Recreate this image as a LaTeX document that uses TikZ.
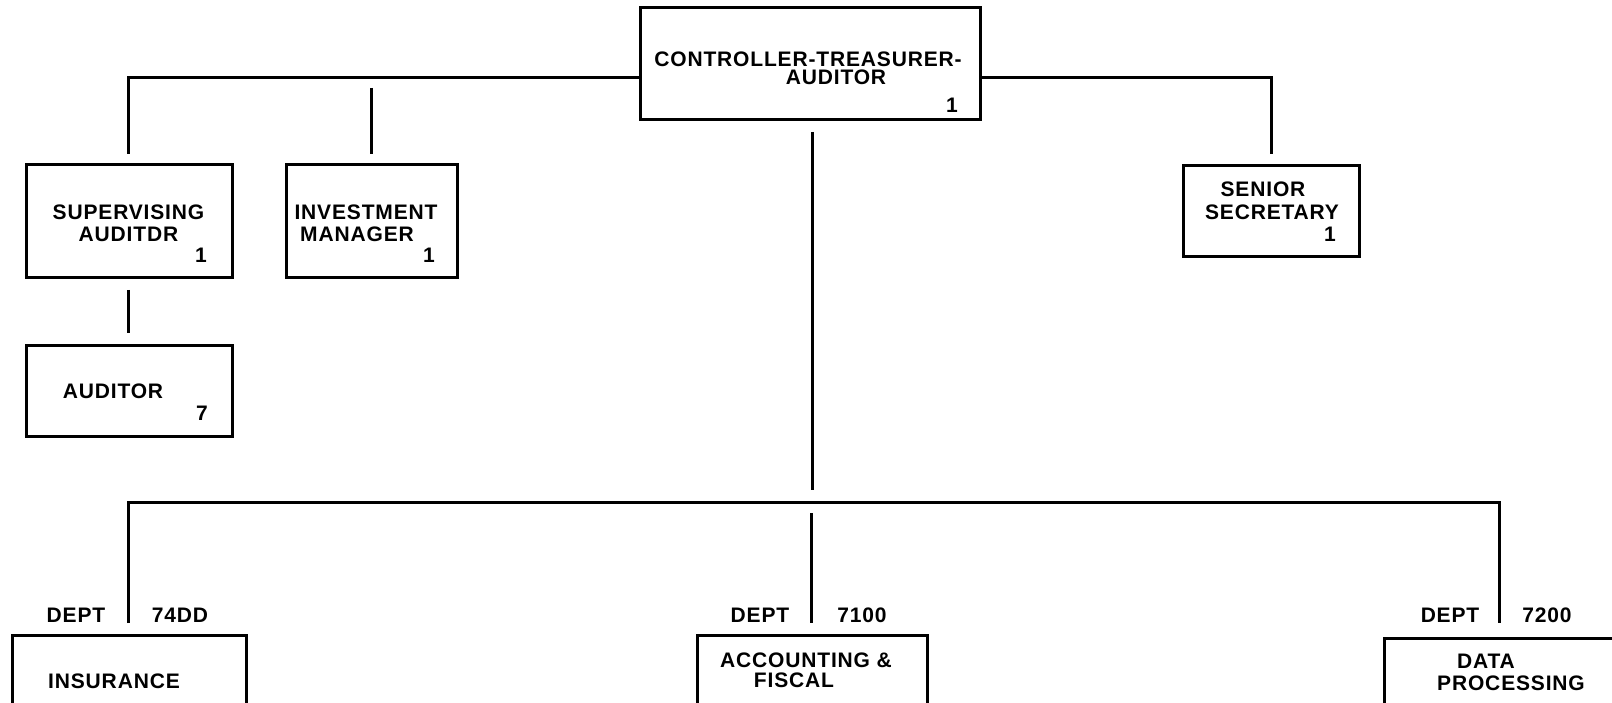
\documentclass[tikz,border=0pt]{standalone}
\usepackage{fontspec}
\setmainfont{Liberation Sans}[LetterSpace=4]
\begin{document}
\begin{tikzpicture}[x=1pt,y=-1pt,
  line width=3pt,
  orgbox/.style={draw,line width=3pt,rectangle,inner sep=0pt,fill=none},
  lbl/.style={anchor=base,inner sep=0pt,font=\fontsize{21}{24}\selectfont\bfseries},
  conn/.style={line width=3pt,line cap=butt}]
\useasboundingbox (0,0) rectangle (1612,703);
\clip (0,0) rectangle (1612,703);
\fill[white] (0,0) rectangle (1612,703);
% boxes
\node[orgbox,minimum width=340pt,minimum height=112pt] (top) at (810,64) {};
\node[orgbox,minimum width=206pt,minimum height=113pt] (sup) at (129,221.5) {};
\node[orgbox,minimum width=171pt,minimum height=113pt] (inv) at (371.5,221.5) {};
\node[orgbox,minimum width=206pt,minimum height=90pt] (aud) at (129,391) {};
\node[orgbox,minimum width=176pt,minimum height=91pt] (sen) at (1271,211.5) {};
\node[orgbox,minimum width=234pt,minimum height=73pt] (ins) at (129,671.5) {};
\node[orgbox,minimum width=230pt,minimum height=73pt] (acc) at (812,671.5) {};
\node[orgbox,minimum width=241pt,minimum height=70pt] (dat) at (1504.5,673) {};
% texts
\node[lbl] (t1) at (808,67) {CONTROLLER-TREASURER-};
\node[lbl] (t2) at (836,85) {AUDITOR};
\node[lbl] (t3) at (952,113) {1};
\node[lbl] (s1) at (128.5,220) {SUPERVISING};
\node[lbl] (s2) at (128.5,242) {AUDITDR};
\node[lbl] (s3) at (201,263) {1};
\node[lbl] (i1) at (366,220) {INVESTMENT};
\node[lbl] (i2) at (357,242) {MANAGER};
\node[lbl] (i3) at (429,263) {1};
\node[lbl] (a1) at (113,398) {AUDITOR};
\node[lbl] (a2) at (202,420) {7};
\node[lbl] (r1) at (1263,197) {SENIOR};
\node[lbl] (r2) at (1272,220) {SECRETARY};
\node[lbl] (r3) at (1330,242) {1};
\node[lbl] (n1) at (114,688) {INSURANCE};
\node[lbl] (c1) at (806,667) {ACCOUNTING \&};
\node[lbl] (c2) at (794,687) {FISCAL};
\node[lbl] (d1) at (1486,668) {DATA};
\node[lbl] (d2) at (1511,690) {PROCESSING};
\node[lbl] (dp1) at (76,622) {DEPT};
\node[lbl] (dn1) at (180,622) {74DD};
\node[lbl] (dp2) at (760,622) {DEPT};
\node[lbl] (dn2) at (862,622) {7100};
\node[lbl] (dp3) at (1450,622) {DEPT};
\node[lbl] (dn3) at (1547,622) {7200};
% junction coordinates
\coordinate (jL) at (128,78);
\coordinate (jR) at (1271,78);
\coordinate (supIn) at (128,154);
\coordinate (invTop) at (371,88);
\coordinate (invIn) at (371,154);
\coordinate (senIn) at (1271,154);
\coordinate (ctrOut) at (812,132);
\coordinate (ctrEnd) at (812,490);
\coordinate (busL) at (128,502);
\coordinate (busR) at (1499,502);
\coordinate (accTop) at (811,513);
\coordinate (accIn) at (811,623);
\coordinate (insIn) at (128,623);
\coordinate (datIn) at (1499,623);
\coordinate (audOut) at (128,290);
\coordinate (audIn) at (128,333);
% connectors
\draw[conn] (top.west |- jL) -- (jL) -- (supIn);
\draw[conn] (invTop) -- (invIn);
\draw[conn] (top.east |- jR) -- (jR) -- (senIn);
\draw[conn] (ctrOut) -- (ctrEnd);
\draw[conn] (insIn) -- (busL) -- (busR) -- (datIn);
\draw[conn] (accTop) -- (accIn);
\draw[conn] (audOut) -- (audIn);
\end{tikzpicture}
\end{document}
